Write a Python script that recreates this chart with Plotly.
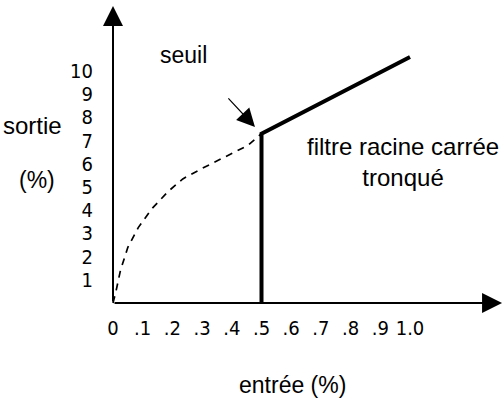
import plotly.graph_objects as go

# ---- data ----
dashed_x = [0, 0.01, 0.025, 0.05, 0.085, 0.13, 0.185, 0.235, 0.3, 0.38, 0.455, 0.5]
dashed_y = [0, 0.5, 1.4, 2.4, 3.25, 4.05, 4.8, 5.35, 5.8, 6.3, 6.8, 7.3]
solid_x = [0.5, 0.5, 1.0]
solid_y = [0, 7.3, 10.6]
x_tick_vals = [0, 0.1, 0.2, 0.3, 0.4, 0.5, 0.6, 0.7, 0.8, 0.9, 1.0]
x_tick_text = ["0", ".1", ".2", ".3", ".4", ".5", ".6", ".7", ".8", ".9", "1.0"]
y_tick_vals = [1, 2, 3, 4, 5, 6, 7, 8, 9, 10]
y_tick_text = ["1", "2", "3", "4", "5", "6", "7", "8", "9", "10"]
x_axis_end = 1.31
y_axis_end = 12.8
seuil_point = (0.478, 7.59)

W, H = 503, 401
X0_PX, Y0_PX = 113, 303
PX_PER_X, PX_PER_Y = 297.0, 23.2

x_range = [-X0_PX / PX_PER_X, (W - X0_PX) / PX_PER_X]
y_range = [-(H - Y0_PX) / PX_PER_Y, Y0_PX / PX_PER_Y]

TXT = dict(family="Liberation Sans, Arial, Helvetica, sans-serif", size=23, color="black")
TXT_BIG = dict(family="Liberation Sans, Arial, Helvetica, sans-serif", size=24, color="black")
TICK = dict(family="DejaVu Sans Condensed, Liberation Sans Narrow, Arial Narrow, sans-serif",
            size=20, color="black")

fig = go.Figure()
fig.add_trace(go.Scatter(x=dashed_x, y=dashed_y, mode="lines",
                         line=dict(color="black", width=1.7, dash="7px,6px"),
                         hoverinfo="skip", cliponaxis=False))
fig.add_trace(go.Scatter(x=solid_x, y=solid_y, mode="lines",
                         line=dict(color="black", width=4), hoverinfo="skip", cliponaxis=False))

annotations = [
    # axes with arrowheads
    dict(x=x_axis_end, y=0, ax=0, ay=0, axref="x", ayref="y", text="", showarrow=True,
         arrowhead=2, arrowsize=2.0, arrowwidth=2, arrowcolor="black"),
    dict(x=0, y=y_axis_end, ax=0, ay=0, axref="x", ayref="y", text="", showarrow=True,
         arrowhead=2, arrowsize=2.0, arrowwidth=2, arrowcolor="black"),
    # seuil pointer
    dict(x=seuil_point[0], y=seuil_point[1], ax=-28, ay=-30, text="", showarrow=True,
         arrowhead=2, arrowsize=3.0, arrowwidth=1.2, arrowcolor="black"),
    dict(x=0.239, y=10.69, text="seuil", showarrow=False, font=TXT),
    dict(x=-0.165, y=7.63, text="sortie", showarrow=False, font=TXT_BIG, xanchor="right"),
    dict(x=-0.256, y=5.30, text="(%)", showarrow=False, font=TXT),
    dict(x=0.603, y=-3.53, text="entrée (%)", showarrow=False, font=TXT),
    dict(x=0.975, y=6.08, text="filtre racine carrée<br>tronqué", showarrow=False, font=TXT_BIG,
         align="center"),
]

fig.update_layout(
    width=W, height=H,
    margin=dict(l=0, r=0, t=0, b=0),
    paper_bgcolor="white", plot_bgcolor="white",
    showlegend=False,
    annotations=annotations,
    xaxis=dict(range=x_range, anchor="free", position=(H - Y0_PX) / H,
               tickvals=x_tick_vals, ticktext=x_tick_text, tickfont=TICK,
               ticks="outside", ticklen=7, tickcolor="rgba(0,0,0,0)",
               showgrid=False, zeroline=False, showline=False, fixedrange=True),
    yaxis=dict(range=y_range, anchor="free", position=X0_PX / W,
               tickvals=y_tick_vals, ticktext=y_tick_text, tickfont=TICK,
               ticks="outside", ticklen=16, tickcolor="rgba(0,0,0,0)",
               showgrid=False, zeroline=False, showline=False, fixedrange=True),
)

fig.write_html("out.html", config={"displayModeBar": False},
               post_script="document.body.style.margin='0px';document.body.style.overflow='hidden';")
